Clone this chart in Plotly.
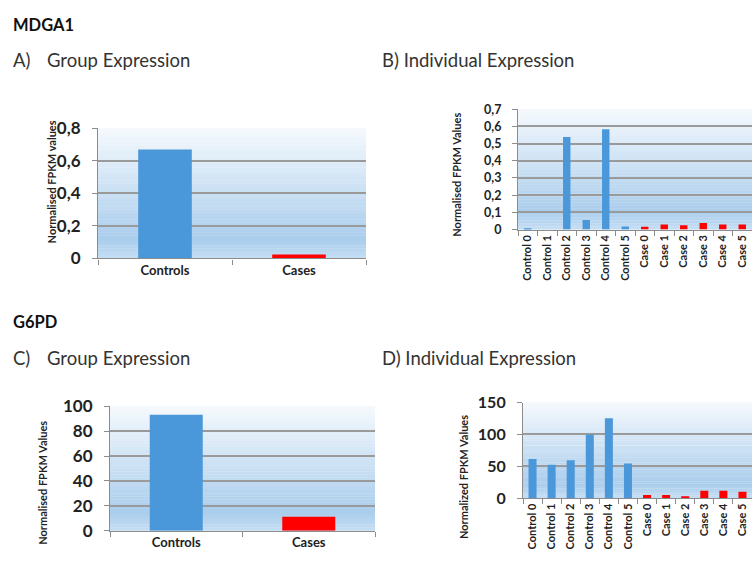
import plotly.graph_objects as go

# ---------------- data ----------------
group_labels = ["Controls", "Cases"]
mdga1_group = [0.67, 0.025]
g6pd_group = [93.3, 11.1]

indiv_labels = ["Control 0", "Control 1", "Control 2", "Control 3", "Control 4", "Control 5",
                "Case 0", "Case 1", "Case 2", "Case 3", "Case 4", "Case 5"]
mdga1_indiv = [0.008, 0.0, 0.539, 0.056, 0.584, 0.018, 0.016, 0.030, 0.025, 0.038, 0.030, 0.030]
g6pd_indiv = [61.5, 52.4, 59.4, 100.0, 125.4, 54.4, 5.0, 5.0, 3.0, 11.6, 11.6, 10.0]

BLUE = "#4a97d9"
RED = "#ff0000"
group_colors = [BLUE, RED]
indiv_colors = [BLUE] * 6 + [RED] * 6

W, H = 753, 565
FONT = "Lato, 'Open Sans', sans-serif"


def px_x(v):
    return v / W


def px_y(v):
    return 1 - v / H


fig = go.Figure()

panels = [
    # (suffix, labels, values, colors, xpx, ypx, yrange, dtick, ytickfont, xtickfont, angle, bw)
    ("", group_labels, mdga1_group, group_colors, (98, 366), (122, 257), [0, 0.8], 0.2, 17, 13, 0, 0.4),
    ("2", indiv_labels, mdga1_indiv, indiv_colors, (518, 752), (102, 227), [0, 0.7], 0.1, 12.5, 11, -90, 0.38),
    ("3", group_labels, g6pd_group, group_colors, (110, 375), (410.7, 539.7), [0, 100], 20, 17, 13, 0, 0.4),
    ("4", indiv_labels, g6pd_indiv, indiv_colors, (523, 752), (406.7, 506), [0, 150], 50, 16, 11, -90, 0.42),
]

shapes = []
top_c = (245, 249, 253)
mid_c = (170, 205, 236)
bot_c = (196, 221, 243)
NB = 40


def mix(a, b, t):
    return tuple(int(round(a[i] + (b[i] - a[i]) * t)) for i in range(3))


for suf, labels, vals, cols, xp, yp, yr, dt, ytf, xtf, ang, bw in panels:
    xa = "x" + suf
    ya = "y" + suf
    fig.add_trace(go.Bar(x=labels, y=vals, marker=dict(color=cols, line=dict(width=0)),
                         width=bw, xaxis=xa, yaxis=ya, showlegend=False))
    fig.layout["xaxis" + suf] = dict(
        domain=[px_x(xp[0]), px_x(xp[1])], anchor=ya, type="category",
        showline=True, linecolor="#8c8c8c", linewidth=1.2,
        ticks="outside", tickson="boundaries", ticklen=5, tickcolor="#8c8c8c",
        tickangle=ang, tickfont=dict(family=FONT, size=xtf, color="#222", weight="bold"),
        showgrid=False, fixedrange=True,
    )
    fig.layout["yaxis" + suf] = dict(
        domain=[px_y(yp[1]), px_y(yp[0])], anchor=xa, range=yr, dtick=dt, tick0=0,
        showline=True, linecolor="#8c8c8c", linewidth=1.2,
        ticks="outside", ticklen=5, tickcolor="#8c8c8c", ticklabelstandoff=8,
        showgrid=True, gridcolor="#9a9a9a", gridwidth=1.5,
        tickfont=dict(family=FONT, size=ytf, color="#222", weight="bold"),
        zeroline=False, fixedrange=True,
    )
    # gradient plot background (white at top to light blue near the bottom)
    for i in range(NB):
        t0 = i / NB
        t1 = (i + 1) / NB
        tc = (t0 + t1) / 2
        if tc < 0.85:
            c = mix(top_c, mid_c, tc / 0.85)
        else:
            c = mix(mid_c, bot_c, (tc - 0.85) / 0.15)
        shapes.append(dict(type="rect", xref=xa + " domain", yref=ya + " domain",
                           x0=0, x1=1, y0=1 - t1, y1=1 - t0 + 0.002,
                           fillcolor="rgb(%d,%d,%d)" % c, line=dict(width=0), layer="below"))

annotations = []


def text(s, x, y, size, bold=False, color="#222", angle=0, xanchor="left"):
    annotations.append(dict(
        text="<b>%s</b>" % s if bold else s, x=px_x(x), y=px_y(y), xref="paper", yref="paper",
        showarrow=False, xanchor=xanchor, yanchor="middle", textangle=angle,
        font=dict(family=FONT, size=size, color=color)))


text("MDGA1", 11, 15, 16.5, bold=True, color="#111")
text("A)", 11, 51, 18.5, color="#333")
text("Group Expression", 45, 51, 18.5, color="#333")
text("B) Individual Expression", 380, 51, 18.5, color="#333")
text("G6PD", 11, 323, 16.5, bold=True, color="#111")
text("C)", 11, 360, 18.5, color="#333")
text("Group Expression", 45, 360, 18.5, color="#333")
text("D) Individual Expression", 380, 360, 18.5, color="#333")

text("Normalised FPKM values", 51, 178, 11, bold=True, angle=-90, xanchor="center")
text("Normalised FPKM Values", 457, 170, 11, bold=True, angle=-90, xanchor="center")
text("Normalised FPKM Values", 43, 490, 11, bold=True, angle=-90, xanchor="center")
text("Normalized FPKM Values", 463, 484, 11, bold=True, angle=-90, xanchor="center")

fig.update_layout(
    width=W, height=H, margin=dict(l=0, r=0, t=0, b=0),
    paper_bgcolor="white", plot_bgcolor="rgba(0,0,0,0)",
    separators=", ", shapes=shapes, annotations=annotations,
    font=dict(family=FONT), bargap=0.2,
)

post = """
document.documentElement.style.margin='0';
document.body.style.margin='0';
document.body.style.overflow='hidden';
"""

fig.write_html("out.html", config={"displayModeBar": False}, post_script=post)
